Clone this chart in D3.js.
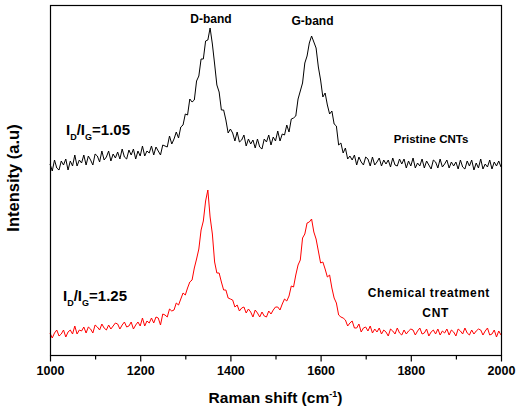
<!DOCTYPE html>
<html>
<head>
<meta charset="utf-8">
<script src="https://cdn.jsdelivr.net/npm/d3@7"></script>
<style>
  body { margin: 0; background: #fff; }
  text { font-family: "Liberation Sans", Arial, sans-serif; font-weight: bold; fill: #000; }
</style>
</head>
<body>
<div id="my_dataviz"></div>
<script>
// Raman shift grid (cm-1), one reading every 5 cm-1
var shiftStart = 1000, shiftEnd = 2000, shiftStep = 5;

// intensities (a.u), pristine CNTs (black)
var pristine = [
  191,184,195,187,185,194,190,196,185,194,189,200,189,195,192,200,190,199,195,190,
  201,199,193,204,195,198,204,194,201,197,203,196,206,198,196,205,200,206,196,204,
  199,209,199,204,202,209,200,208,204,200,210,209,208,219,211,216,223,217,228,230,
  241,240,256,253,255,274,279,296,296,314,315,327,311,291,270,263,245,245,235,222,
  226,222,214,223,213,215,220,209,216,211,215,207,216,208,206,216,213,220,210,218,
  214,224,214,221,220,230,223,236,237,239,256,264,272,292,299,312,319,313,307,288,
  275,258,262,250,241,244,231,229,210,212,202,207,196,199,195,200,190,198,193,190,
  198,196,189,198,190,193,197,189,195,191,195,188,197,190,189,196,191,196,187,194,
  189,197,187,192,189,196,187,194,190,186,195,193,187,196,188,191,195,187,193,189,
  193,186,195,188,186,194,189,195,185,192,187,196,186,191,188,195,186,193,189,194,
  188
];

// chemically treated CNT (red)
var treated = [
  22,17,22,25,19,21,25,18,23,25,21,29,21,25,24,28,22,28,26,22,
  30,28,25,31,27,25,30,26,29,32,31,26,30,33,28,29,33,26,30,33,
  29,37,29,34,32,37,32,38,37,30,41,40,38,46,44,45,52,50,56,62,
  60,67,73,75,87,96,106,125,134,154,165,138,121,93,82,82,73,65,65,57,
  56,55,48,50,44,47,48,42,46,43,38,45,42,38,43,39,38,44,41,45,
  48,48,45,51,56,54,59,69,68,80,90,95,117,121,132,133,136,123,116,104,
  92,93,86,78,80,67,57,52,40,38,37,35,29,32,34,27,27,31,23,27,
  28,24,29,22,26,23,27,21,25,23,19,26,24,21,27,22,20,25,21,24,
  26,25,20,24,27,21,22,26,19,23,25,21,26,20,24,22,26,20,25,23,
  19,26,24,21,27,22,20,25,21,24,26,25,20,24,27,20,21,25,18,24,
  20
];

var majorTicks = [1000, 1200, 1400, 1600, 1800, 2000];
var minorTicks = [1100, 1300, 1500, 1700, 1900];

// set the dimensions and margins of the graph
var margin = {top: 5, right: 20, bottom: 58, left: 50},
  width = 521 - margin.left - margin.right,
  height = 413 - margin.top - margin.bottom;

var svg = d3.select("#my_dataviz")
.append("svg")
  .attr("width", 521)
  .attr("height", 413)
.append("g")
  .attr("transform", "translate(" + margin.left + "," + margin.top + ")");

var shifts = d3.range(shiftStart, shiftEnd + 1, shiftStep);

var x = d3.scaleLinear().domain([shiftStart, shiftEnd]).range([0, width]);
var y = d3.scaleLinear().domain([0, 350]).range([height, 0]);

var line = d3.line()
  .x(function(d, i) { return x(shifts[i]); })
  .y(function(d) { return y(d); });

// spectra
svg.append("path")
  .datum(pristine)
  .attr("d", line)
  .style("fill", "none")
  .style("stroke", "#000")
  .style("stroke-width", 1);

svg.append("path")
  .datum(treated)
  .attr("d", line)
  .style("fill", "none")
  .style("stroke", "#ff0000")
  .style("stroke-width", 1);

// frame
svg.append("rect")
  .attr("x", 0.5).attr("y", 0.5)
  .attr("width", width).attr("height", height)
  .style("fill", "none")
  .style("stroke", "#000")
  .style("stroke-width", 1.2);

// bottom axis, major + minor ticks
var xAxis = svg.append("g")
  .attr("transform", "translate(0," + (height + 0.5) + ")")
  .call(d3.axisBottom(x).tickValues(majorTicks).tickFormat(d3.format("d"))
    .tickSize(6).tickSizeOuter(0).tickPadding(5));
xAxis.select(".domain").remove();
xAxis.selectAll("line").style("stroke-width", 1.2);
xAxis.selectAll("text")
  .style("font-family", "Liberation Sans, Arial, sans-serif")
  .style("font-weight", "bold")
  .style("font-size", "12.5px")
  .style("fill", "#000");

var xMinor = svg.append("g")
  .attr("transform", "translate(0," + (height + 0.5) + ")")
  .call(d3.axisBottom(x).tickValues(minorTicks).tickSize(4).tickSizeOuter(0).tickFormat(""));
xMinor.select(".domain").remove();
xMinor.selectAll("line").style("stroke-width", 1.2);

// axis titles
var xTitle = svg.append("text")
  .attr("x", width / 2)
  .attr("y", height + 48)
  .style("text-anchor", "middle")
  .style("font-size", "15.5px");
xTitle.append("tspan").text("Raman shift (cm");
xTitle.append("tspan").attr("dy", -6).style("font-size", "9px").text("-1");
xTitle.append("tspan").attr("dy", 6).text(")");

svg.append("text")
  .attr("transform", "translate(-31," + 173 + ") rotate(-90)")
  .style("text-anchor", "middle")
  .style("font-size", "16.5px")
  .text("Intensity (a.u)");

// peak labels
svg.append("text").attr("x", x(1357)).attr("y", 18)
  .style("text-anchor", "middle").style("font-size", "12px").text("D-band");
svg.append("text").attr("x", x(1582)).attr("y", 20)
  .style("text-anchor", "middle").style("font-size", "12px").text("G-band");

// ratio labels
function ratioLabel(px, py, value) {
  var t = svg.append("text").attr("x", px).attr("y", py).style("font-size", "15px");
  t.append("tspan").text("I");
  t.append("tspan").attr("dy", 5).style("font-size", "9px").text("D");
  t.append("tspan").attr("dy", -5).text("/I");
  t.append("tspan").attr("dy", 5).style("font-size", "9px").text("G");
  t.append("tspan").attr("dy", -5).text("=" + value);
}
ratioLabel(16, 130, "1.05");
ratioLabel(13, 296, "1.25");

// sample labels
svg.append("text").attr("x", x(1845)).attr("y", 138)
  .style("text-anchor", "middle").style("font-size", "11.5px").text("Pristine CNTs");
svg.append("text").attr("x", x(1840)).attr("y", 292)
  .style("text-anchor", "middle").style("font-size", "12px")
  .style("letter-spacing", "0.6px").text("Chemical treatment");
svg.append("text").attr("x", x(1855)).attr("y", 312)
  .style("text-anchor", "middle").style("font-size", "12px")
  .style("letter-spacing", "0.6px").text("CNT");
</script>
</body>
</html>
